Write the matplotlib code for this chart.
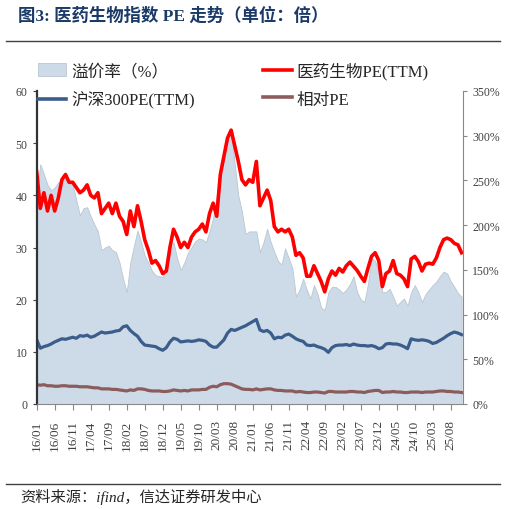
import numpy as np
import matplotlib
matplotlib.use("Agg")
import matplotlib.pyplot as plt
from matplotlib.lines import Line2D
from matplotlib.patches import Patch

plt.rcParams["font.family"] = ["Liberation Serif", "Noto Sans CJK SC"]
plt.rcParams["axes.unicode_minus"] = False

# monthly readings, 2016/01 .. 2025/11
pharma_pe = [44.5, 37.5, 40.5, 37, 40, 37, 39.5, 43, 44, 42.5, 42.5, 41.5, 40.5, 41, 42, 40, 39.5, 40.5,
             36.5, 37.5, 38.5, 36.5, 38.5, 36, 35, 32.5, 37, 34, 38, 35, 31.5, 29.5, 27, 27.5, 26.5, 25,
             25.5, 30, 33.5, 32, 30, 31, 30, 32, 33, 33.5, 34.5, 33, 36.5, 38.5, 36, 44, 47.5, 51,
             52.5, 49.5, 46.5, 43, 42, 43, 42.5, 46.5, 38, 39.5, 41, 39, 34, 33, 33.5, 33, 33.5, 32,
             28.5, 29, 28, 24.5, 24.5, 26.5, 25, 23.5, 21.5, 24, 25.5, 24.7, 26, 25.3, 26.5, 27.2, 26.4, 25.6,
             24.5, 23.5, 26, 28.3, 29, 27.5, 22.5, 25, 25.5, 27.5, 25, 24.7, 24, 22.5, 27.8, 28.3, 27.3, 25.5,
             26.8, 27, 26.8, 28, 30, 31.5, 31.8, 31.5, 30.8, 30.5, 29]
hs300_pe = [12.3, 10.7, 11.0, 11.2, 11.5, 11.9, 12.2, 12.5, 12.4, 12.6, 12.8, 12.6, 13.1, 13.0, 13.2, 12.8, 13.0, 13.4,
            13.8, 13.6, 13.7, 13.8, 14.0, 14.1, 14.8, 15.0, 14.1, 13.5, 13.0, 12.0, 11.3, 11.2, 11.1, 11.0, 10.6, 10.3,
            10.8, 11.9, 12.6, 12.4, 11.9, 12.0, 12.1, 12.0, 12.1, 12.3, 12.2, 12.0, 11.3, 10.9, 10.9, 11.6, 12.3, 13.6,
            14.3, 14.1, 14.4, 14.7, 15.0, 15.4, 15.8, 16.2, 14.2, 13.9, 14.1, 13.6, 12.5, 12.8, 12.7, 13.2, 13.4, 13.0,
            12.5, 12.2, 12.0, 11.3, 11.2, 11.3, 11.0, 10.8, 10.5, 9.9, 10.8, 11.2, 11.3, 11.3, 11.4, 11.2, 11.5, 11.3,
            11.2, 11.2, 11.1, 11.2, 11.0, 10.6, 10.8, 11.5, 11.6, 11.5, 11.5, 11.3, 11.0, 10.6, 12.5, 12.3, 12.2, 12.3,
            12.2, 12.0, 11.6, 11.8, 12.2, 12.6, 13.1, 13.5, 13.8, 13.6, 13.3]
relative_pe = [3.7, 3.6, 3.7, 3.5, 3.5, 3.4, 3.4, 3.5, 3.5, 3.4, 3.4, 3.4, 3.3, 3.3, 3.3, 3.2, 3.1, 3.1,
               2.9, 2.9, 2.9, 2.8, 2.8, 2.7, 2.6, 2.5, 2.7, 2.6, 2.9, 2.9, 2.8, 2.6, 2.5, 2.5, 2.5, 2.4,
               2.4, 2.5, 2.7, 2.6, 2.5, 2.6, 2.5, 2.7, 2.7, 2.7, 2.8, 2.8, 3.2, 3.4, 3.3, 3.7, 3.9, 3.9,
               3.8, 3.5, 3.2, 2.9, 2.8, 2.8, 2.7, 2.9, 2.7, 2.8, 2.9, 2.9, 2.7, 2.6, 2.6, 2.5, 2.5, 2.5,
               2.3, 2.4, 2.3, 2.2, 2.2, 2.3, 2.3, 2.2, 2.1, 2.4, 2.4, 2.3, 2.3, 2.3, 2.3, 2.4, 2.4, 2.3,
               2.3, 2.2, 2.4, 2.5, 2.6, 2.6, 2.2, 2.3, 2.3, 2.4, 2.3, 2.3, 2.2, 2.2, 2.3, 2.3, 2.3, 2.2,
               2.3, 2.3, 2.3, 2.4, 2.5, 2.5, 2.4, 2.4, 2.3, 2.3, 2.2]
premium_pct = [233, 268, 257, 245, 239, 242, 248, 251, 251, 248, 245, 228, 211, 219, 220, 210, 201, 193,
               172, 175, 177, 172, 170, 158, 140, 125, 158, 177, 194, 181, 166, 158, 149, 144, 143, 142,
               152, 166, 181, 163, 150, 158, 169, 175, 182, 185, 184, 181, 193, 208, 233, 264, 280, 295,
               306, 268, 233, 215, 190, 193, 193, 193, 170, 181, 196, 181, 170, 160, 156, 174, 163, 152,
               120, 128, 140, 128, 118, 133, 123, 108, 105, 125, 131, 131, 128, 124, 128, 134, 143, 125,
               117, 114, 134, 163, 160, 146, 125, 125, 129, 120, 110, 114, 118, 110, 125, 133, 125, 114,
               123, 128, 133, 137, 143, 148, 146, 137, 131, 124, 120]
tick_labels = ["16/01", "16/06", "16/11", "17/04", "17/09", "18/02", "18/07", "18/12", "19/05", "19/10",
               "20/03", "20/08", "21/01", "21/06", "21/11", "22/04", "22/09", "23/02", "23/07", "23/12",
               "24/05", "24/10", "25/03", "25/08"]

RED = "#ff0000"; BLUE = "#3a5d8c"; BROWN = "#8c5c5c"; AREA = "#cddbe9"
INK = "#404040"; NAVY = "#1b3a68"

W, H = 506, 510
fig = plt.figure(figsize=(W / 100, H / 100), dpi=100)
ax = fig.add_axes([36.7 / W, 1 - 405 / H, (463 - 36.7) / W, (405 - 92) / H])
ax2 = ax.twinx()
ax.set_zorder(ax2.get_zorder() + 1)
ax.patch.set_visible(False)

x = np.arange(len(pharma_pe))
ax2.fill_between(x, 0, premium_pct, color=AREA, lw=0.6, edgecolor="#b9c6d3")
ax.plot(x, hs300_pe, color=BLUE, lw=2.3, solid_joinstyle="round")
ax.plot(x, relative_pe, color=BROWN, lw=2.3, solid_joinstyle="round")
ax.plot(x, pharma_pe, color=RED, lw=2.6, solid_joinstyle="round")

ax.set_xlim(0, len(x) - 0.6)
ax.set_ylim(0, 60)
ax2.set_ylim(0, 350)
ax.set_yticks(range(0, 61, 10))
ax2.set_yticks(range(0, 351, 50))
ax2.set_yticklabels([f"{v}%" for v in range(0, 351, 50)])
ax.set_xticks(np.arange(0, len(x), 5)[:len(tick_labels)])
ax.set_xticklabels(tick_labels, rotation=90)

for a in (ax, ax2):
    a.spines["top"].set_visible(False)
ax.spines["left"].set_color("#333333"); ax.spines["left"].set_linewidth(1.6)
ax.spines["right"].set_visible(False)
ax2.spines["left"].set_visible(False)
ax2.spines["right"].set_color("#888888"); ax2.spines["right"].set_linewidth(0.8)
ax.spines["bottom"].set_color("#888888"); ax.spines["bottom"].set_linewidth(0.8)
ax2.spines["bottom"].set_visible(False)
ax.tick_params(axis="y", colors=INK, labelsize=8.5, length=3, width=0.8, direction="out")
ax.tick_params(axis="x", colors="#888888", labelcolor=INK, labelsize=9.5, length=4, width=0.8, pad=7)
ax2.tick_params(axis="y", colors="#888888", labelcolor=INK, labelsize=8.5, length=3, width=0.8)

handles = [Patch(facecolor=AREA, edgecolor="#b9c6d3", lw=0.6),
           Line2D([], [], color=BLUE, lw=2.6),
           Line2D([], [], color=RED, lw=2.6),
           Line2D([], [], color=BROWN, lw=2.6)]
labels = ["溢价率（%）", "沪深300PE(TTM)", "医药生物PE(TTM)", "相对PE"]
fig.legend(handles, labels, loc="upper left", bbox_to_anchor=(38 / W, 1 - 63 / H), ncol=2,
           frameon=False, fontsize=12, borderpad=0, borderaxespad=0, handlelength=1.7,
           handleheight=0.8, handletextpad=0.3, columnspacing=4.1, labelspacing=0.7,
           labelcolor="#262626")

fig.text(18 / W, 1 - 16 / H, "图3: 医药生物指数 PE 走势（单位：倍）", fontsize=12.5, weight="bold",
         color=NAVY, ha="left", va="center")
fig.add_artist(Line2D([6 / W, 500 / W], [1 - 41.5 / H] * 2, color="#404040", lw=1.0))
fig.add_artist(Line2D([6 / W, 500 / W], [1 - 484.5 / H] * 2, color="#404040", lw=1.0))
fig.text(20 / W, 1 - 497 / H, "资料来源：ifind，信达证券研发中心", fontsize=11, style="italic",
         color="#262626", ha="left", va="center")

fig.savefig("out.png", dpi=100)
